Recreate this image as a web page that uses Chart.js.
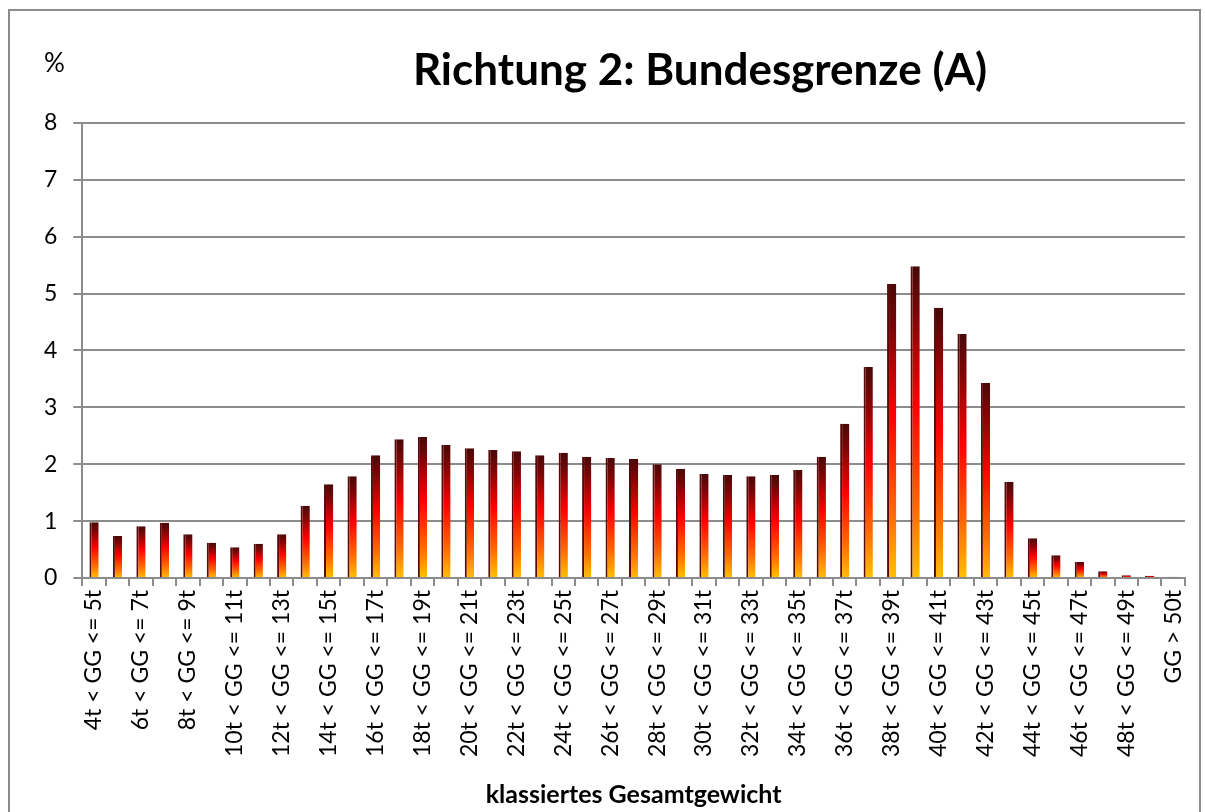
<!DOCTYPE html>
<html lang="de">
<head>
    <meta charset="UTF-8">
    <title>Richtung 2: Bundesgrenze (A)</title>
    <script src="https://cdn.jsdelivr.net/npm/chart.js"></script>
    <style>
        html, body {
            margin: 0;
            padding: 0;
            background: #fff;
            overflow: hidden;
        }
        .frame {
            position: absolute;
            left: 8px;
            top: 9px;
            width: 1189px;
            height: 820px;
            border: 2px solid #8c8c8c;
        }
        .chart-box {
            position: absolute;
            left: 0;
            top: 0;
            width: 1205px;
            height: 812px;
        }
        .chart-title {
            position: absolute;
            left: 400px;
            width: 600px;
            top: 38px;
            text-align: center;
            font-family: Lato, "Open Sans", sans-serif;
            font-weight: bold;
            font-size: 44px;
            line-height: 60px;
            color: #000;
        }
        .unit {
            position: absolute;
            left: 44px;
            top: 46px;
            font-family: Lato, "Open Sans", sans-serif;
            font-size: 26px;
            color: #000;
        }
    </style>
</head>
<body>
    <div class="frame"></div>
    <div class="chart-box">
        <canvas id="gewichtChart" width="1205" height="812"></canvas>
    </div>
    <div class="chart-title">Richtung 2: Bundesgrenze (A)</div>
    <div class="unit">%</div>

    <script>
        // Gewichtsklassen 4t..50t und > 50t
        const klassen = [
            '4t < GG <= 5t', '5t < GG <= 6t', '6t < GG <= 7t', '7t < GG <= 8t',
            '8t < GG <= 9t', '9t < GG <= 10t', '10t < GG <= 11t', '11t < GG <= 12t',
            '12t < GG <= 13t', '13t < GG <= 14t', '14t < GG <= 15t', '15t < GG <= 16t',
            '16t < GG <= 17t', '17t < GG <= 18t', '18t < GG <= 19t', '19t < GG <= 20t',
            '20t < GG <= 21t', '21t < GG <= 22t', '22t < GG <= 23t', '23t < GG <= 24t',
            '24t < GG <= 25t', '25t < GG <= 26t', '26t < GG <= 27t', '27t < GG <= 28t',
            '28t < GG <= 29t', '29t < GG <= 30t', '30t < GG <= 31t', '31t < GG <= 32t',
            '32t < GG <= 33t', '33t < GG <= 34t', '34t < GG <= 35t', '35t < GG <= 36t',
            '36t < GG <= 37t', '37t < GG <= 38t', '38t < GG <= 39t', '39t < GG <= 40t',
            '40t < GG <= 41t', '41t < GG <= 42t', '42t < GG <= 43t', '43t < GG <= 44t',
            '44t < GG <= 45t', '45t < GG <= 46t', '46t < GG <= 47t', '47t < GG <= 48t',
            '48t < GG <= 49t', '49t < GG <= 50t', 'GG > 50t'
        ];

        // Anteil in %
        const anteile = [
            0.98, 0.74, 0.91, 0.97, 0.77, 0.62, 0.54, 0.60,
            0.77, 1.27, 1.65, 1.79, 2.16, 2.44, 2.48, 2.34,
            2.28, 2.25, 2.23, 2.16, 2.20, 2.13, 2.11, 2.09,
            2.00, 1.92, 1.83, 1.81, 1.79, 1.81, 1.90, 2.13,
            2.71, 3.71, 5.17, 5.48, 4.75, 4.29, 3.43, 1.69,
            0.70, 0.40, 0.28, 0.12, 0.05, 0.04, 0.02
        ];

        const yTicks = [0, 1, 2, 3, 4, 5, 6, 7, 8];

        const fontFamily = 'Lato, "Open Sans", sans-serif';

        // Farbverlauf je Balken: dunkelrot oben -> rot -> orange -> gelb unten
        function balkenVerlauf(context) {
            const chart = context.chart;
            const scales = chart.scales;
            if (!scales.y || context.raw == null) return '#e00000';
            const top = scales.y.getPixelForValue(context.raw);
            const base = scales.y.getPixelForValue(0);
            if (!Number.isFinite(top) || !Number.isFinite(base) || base - top < 0.5) return '#e00000';
            const g = chart.ctx.createLinearGradient(0, top, 0, base);
            g.addColorStop(0, '#4a0808');
            g.addColorStop(0.15, '#7a0606');
            g.addColorStop(0.45, '#ff0000');
            g.addColorStop(0.78, '#ff6a00');
            g.addColorStop(1, '#ffc000');
            return g;
        }

        new Chart(document.getElementById('gewichtChart'), {
            type: 'bar',
            data: {
                labels: klassen,
                datasets: [{
                    data: anteile,
                    backgroundColor: balkenVerlauf,
                    borderColor: '#5a0808',
                    borderWidth: { left: 2, right: 0, top: 0, bottom: 0 },
                    borderSkipped: 'bottom',
                    categoryPercentage: 0.76,
                    barPercentage: 0.52
                }]
            },
            options: {
                responsive: false,
                animation: false,
                layout: {
                    padding: { left: 28, right: 19, top: 123, bottom: 2 }
                },
                plugins: {
                    legend: { display: false },
                    tooltip: { enabled: false }
                },
                scales: {
                    x: {
                        offset: true,
                        grid: {
                            offset: true,
                            drawOnChartArea: false,
                            drawTicks: true,
                            tickLength: 8,
                            color: '#8c8c8c',
                            lineWidth: 2
                        },
                        border: { color: '#8c8c8c', width: 2 },
                        ticks: {
                            autoSkip: false,
                            maxRotation: 90,
                            minRotation: 90,
                            padding: 4,
                            color: '#000',
                            font: { family: fontFamily, size: 23 },
                            callback: (v, i) => (i % 2 ? '' : klassen[i])
                        },
                        title: {
                            display: true,
                            text: 'klassiertes Gesamtgewicht',
                            color: '#000',
                            font: { family: fontFamily, size: 25, weight: 'bold' },
                            padding: { top: 19, bottom: 0 }
                        }
                    },
                    y: {
                        min: yTicks[0],
                        max: yTicks[yTicks.length - 1],
                        afterBuildTicks: (axis) => {
                            axis.ticks = yTicks.map(v => ({ value: v }));
                        },
                        grid: {
                            color: '#8c8c8c',
                            lineWidth: 2,
                            tickLength: 9
                        },
                        border: { color: '#8c8c8c', width: 2 },
                        ticks: {
                            padding: 16,
                            color: '#000',
                            font: { family: fontFamily, size: 23 }
                        }
                    }
                }
            }
        });
    </script>
</body>
</html>
